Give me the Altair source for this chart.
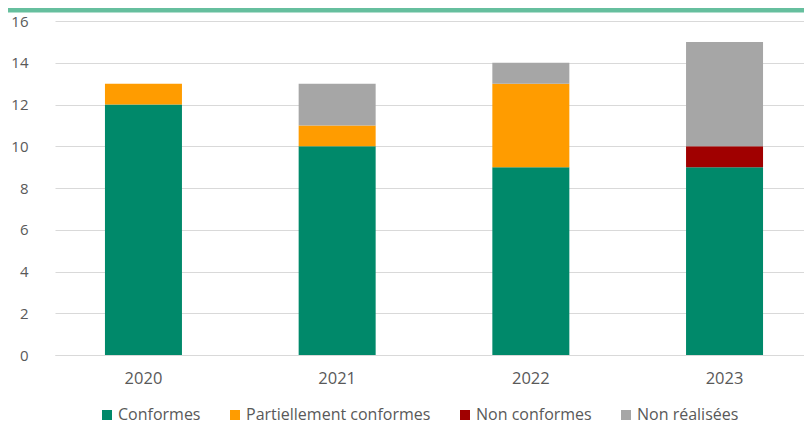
import altair as alt
import pandas as pd

years = ["2020", "2021", "2022", "2023"]
categories = ["Conformes", "Partiellement conformes", "Non conformes", "Non réalisées"]
conformes = [12, 10, 9, 9]
partiellement = [1, 1, 4, 0]
non_conformes = [0, 0, 0, 1]
non_realisees = [0, 2, 1, 5]
colors = ["#00896A", "#FF9C00", "#A00000", "#A6A6A6"]
y_ticks = [0, 2, 4, 6, 8, 10, 12, 14, 16]

series = [conformes, partiellement, non_conformes, non_realisees]
rows = []
for ci, (cat, vals) in enumerate(zip(categories, series)):
    for y, v in zip(years, vals):
        rows.append({"Année": y, "Catégorie": cat, "Valeur": v, "ordre": ci})
df = pd.DataFrame(rows)

FONT = "Open Sans"
LEFT = 35
W, H = 796 - LEFT, 334

bars = alt.Chart(df).mark_bar(size=77).encode(
    x=alt.X("Année:N", sort=years,
            scale=alt.Scale(range=[12, 770], paddingInner=0.6, paddingOuter=0.2567),
            axis=alt.Axis(title=None, labelAngle=0, ticks=False, domainColor="#D9D9D9",
                          labelFont=FONT, labelFontSize=16.5, labelColor="#595959",
                          labelPadding=15)),
    y=alt.Y("Valeur:Q", stack="zero",
            scale=alt.Scale(domain=[0, 16], nice=False),
            axis=alt.Axis(title=None, values=y_ticks, ticks=False, domain=False,
                          gridColor="#D9D9D9", labelFont=FONT, labelFontSize=15,
                          labelColor="#595959", labelPadding=15)),
    color=alt.Color("Catégorie:N", sort=categories,
                    scale=alt.Scale(domain=categories, range=colors),
                    legend=alt.Legend(title=None, orient="none", direction="horizontal",
                                      columns=4, legendX=56, legendY=H + 52,
                                      symbolType="square", symbolSize=100,
                                      symbolStrokeWidth=0, labelFont=FONT,
                                      labelFontSize=16, labelColor="#595959",
                                      labelLimit=400, labelOffset=3, columnPadding=26)),
    order=alt.Order("ordre:Q"),
)

strip = alt.Chart(pd.DataFrame({"a": [0]})).mark_rule(color="#66BF9E", strokeWidth=5).encode(
    x=alt.value(-LEFT), x2=alt.value(W), y=alt.value(-11)
)

chart = alt.layer(bars, strip).properties(
    width=W, height=H,
    autosize=alt.AutoSizeParams(type="none"),
    padding={"left": LEFT, "top": 13, "right": 0, "bottom": 72},
).configure_view(stroke=None)

chart.save("out.html", embed_options={"renderer": "svg", "actions": False})
